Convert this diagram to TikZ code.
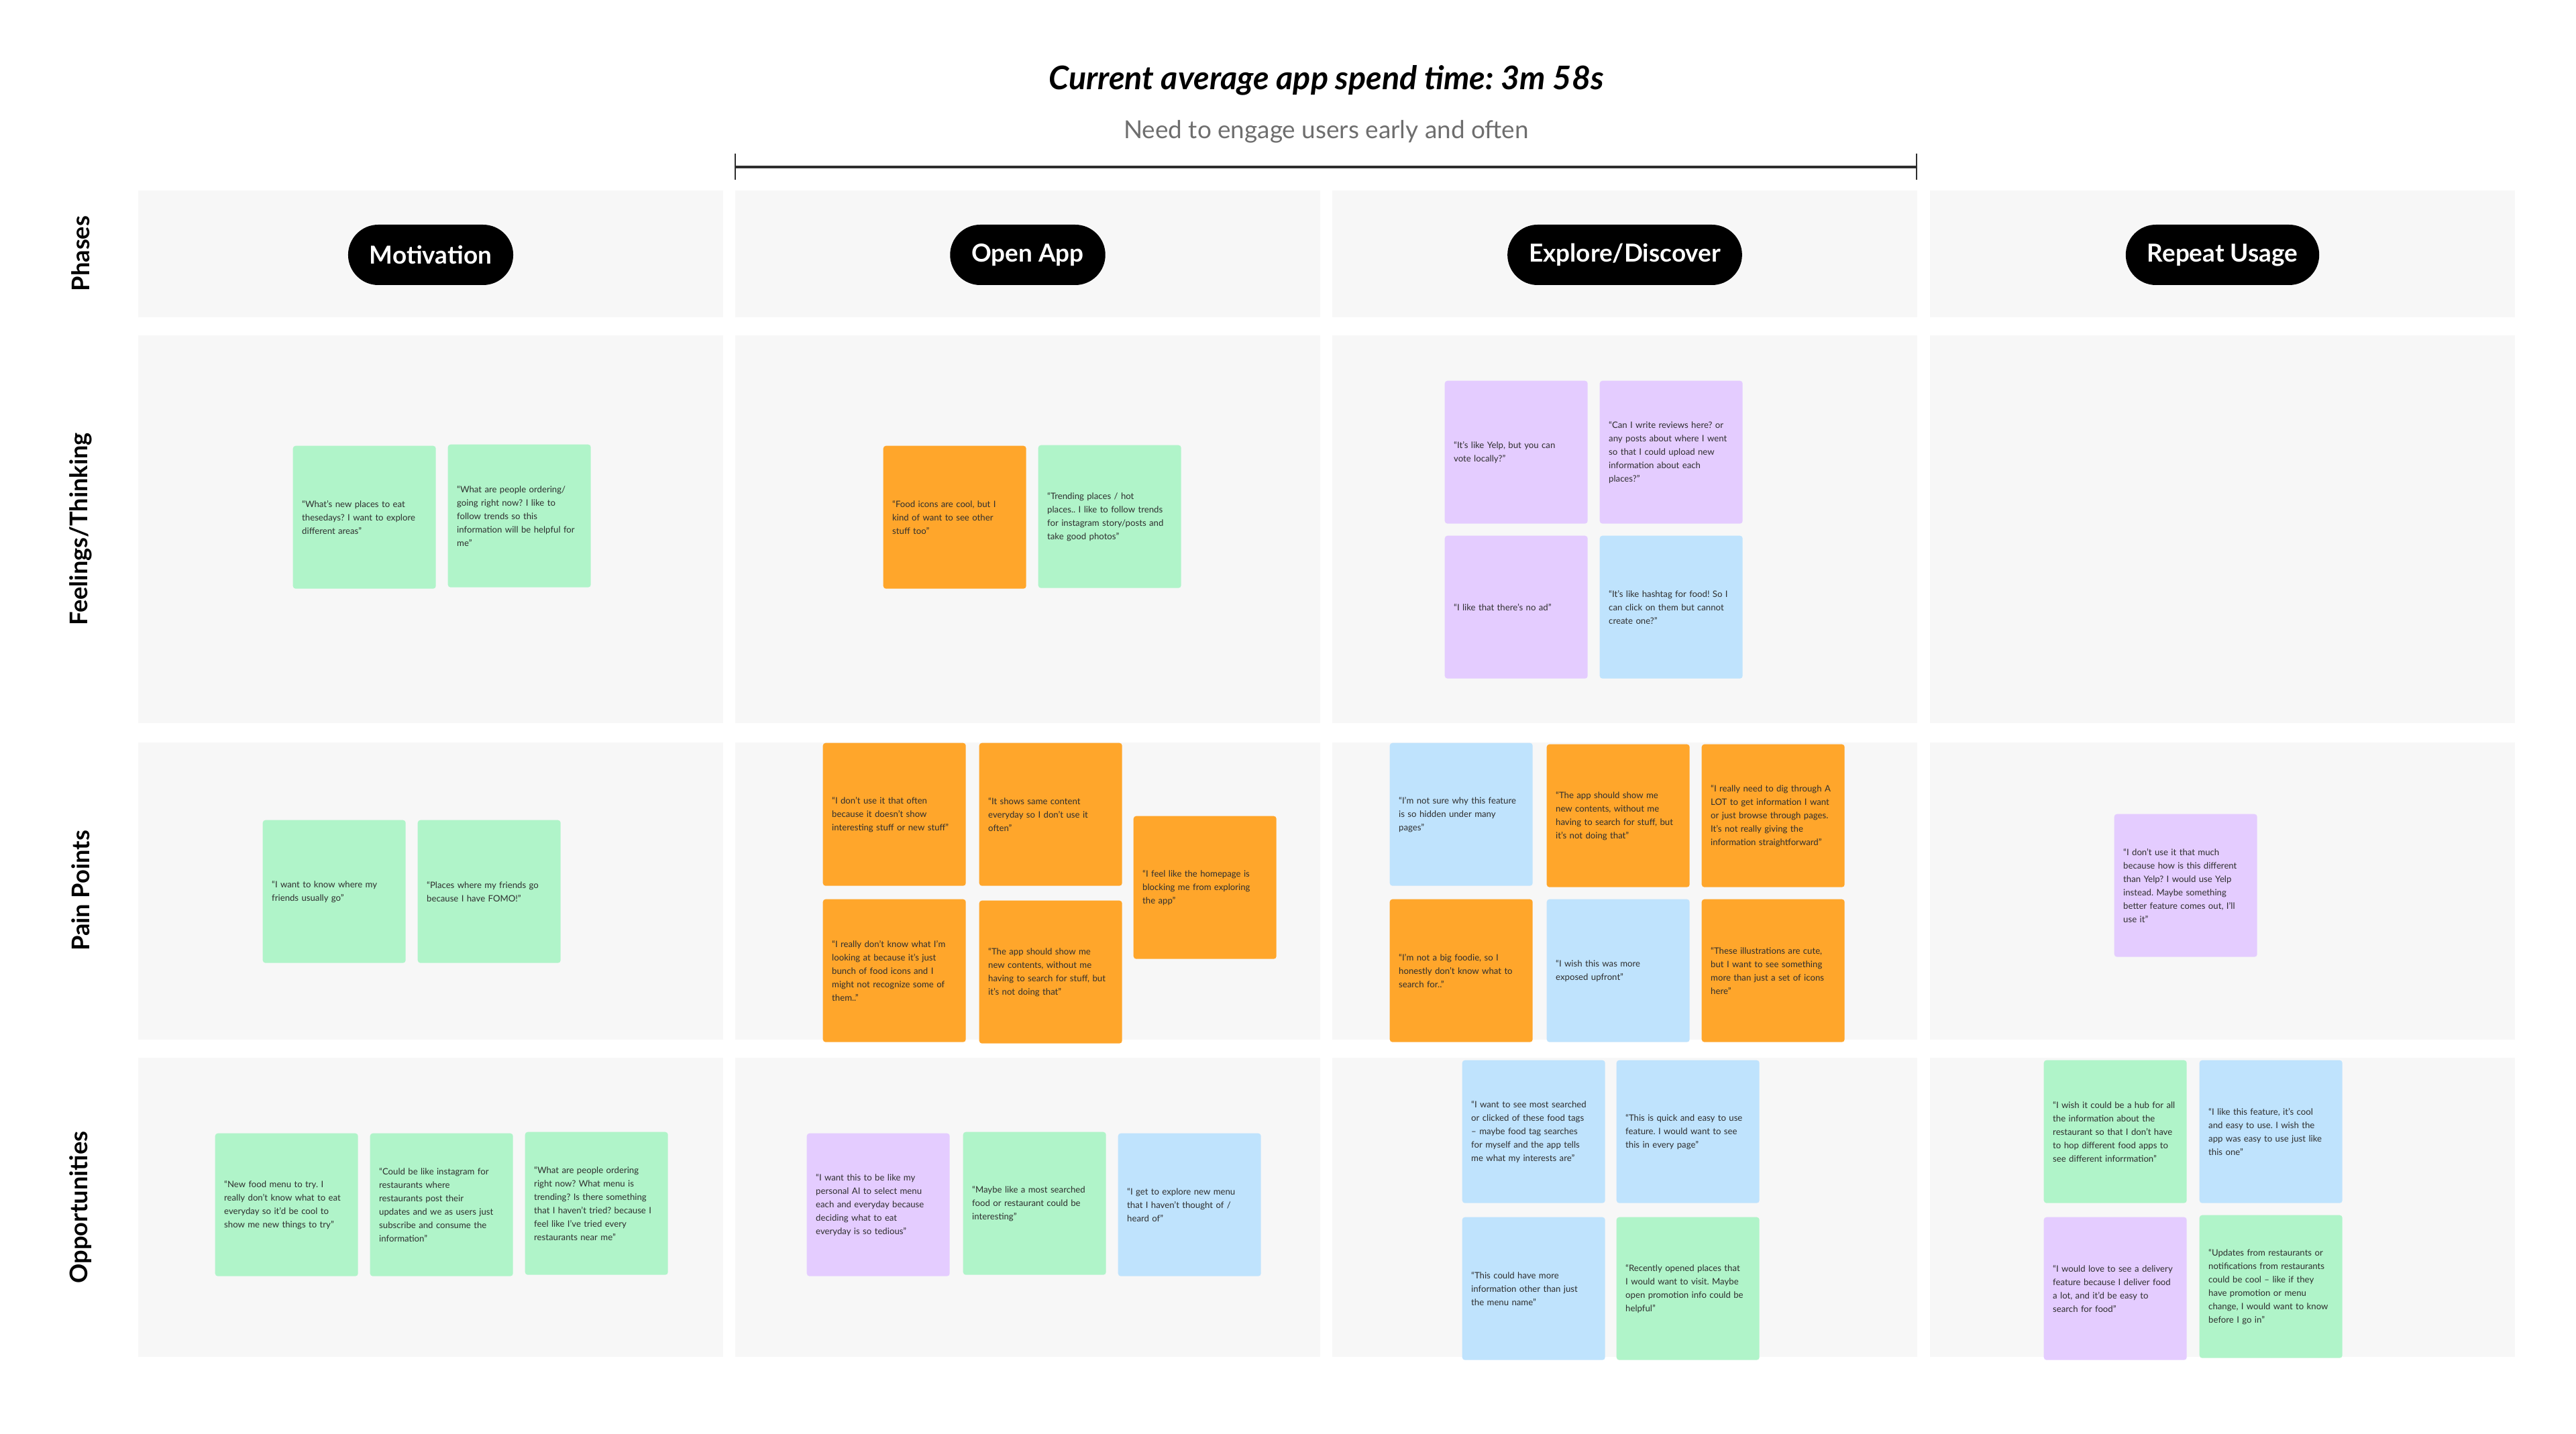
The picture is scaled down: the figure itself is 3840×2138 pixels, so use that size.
\documentclass[tikz,border=0pt]{standalone}
\usepackage{fontspec}
\setmainfont{Lato}
\usepackage{xcolor}
\usetikzlibrary{positioning}
\frenchspacing

\definecolor{lanegray}{HTML}{F7F7F7}
\definecolor{mint}{HTML}{B0F4C9}
\definecolor{tangerine}{HTML}{FFA62B}
\definecolor{lilac}{HTML}{E4CCFF}
\definecolor{sky}{HTML}{BFE3FD}
\definecolor{ink}{HTML}{2E2E2E}
\definecolor{subgray}{HTML}{6E6E6E}

\tikzset{
  lane/.style={fill=lanegray},
  pill/.style={fill=black, text=white, rounded corners=4.5mm, minimum height=9mm, inner xsep=3.2mm, font=\fontsize{10.5}{12}\selectfont\bfseries},
  rowlabel/.style={rotate=90, font=\fontsize{10.3}{12}\selectfont\bfseries},
  sticky/.style={anchor=north west, rounded corners=0.4mm, minimum width=21.3mm, minimum height=21.3mm, text width=18.6mm, inner sep=0pt, align=left, text=ink, font=\fontsize{3.75}{5.69}\selectfont}
}

\begin{document}
\begin{tikzpicture}[x=0.1mm, y=-0.1mm]
\useasboundingbox[fill=white] (0,0) rectangle (3840,2138);

\foreach \ya/\yb in {284/473, 500/1078, 1107/1550, 1577/2023}
  \foreach \xa in {206, 1096, 1986, 2877}
    \fill[lane] (\xa,\ya) rectangle ({\xa+872},\yb);

\node[font=\fontsize{13.8}{16}\selectfont\bfseries\itshape] (title) at (1977,120) {Current average app spend time: 3m 58s};
\node[text=subgray, font=\fontsize{10.5}{12}\selectfont] (subtitle) at (1977,196) {Need to engage users early and often};
\coordinate (spanL) at (1096,249);
\coordinate (spanR) at (2857,249);
\draw[line width=0.4mm, ink] (spanL) -- (spanR);
\draw[line width=0.2mm, ink] ([yshift=1.95mm]spanL) -- ([yshift=-1.95mm]spanL);
\draw[line width=0.2mm, ink] ([yshift=1.95mm]spanR) -- ([yshift=-1.95mm]spanR);

\node[rowlabel] (phases) at (120,378) {Phases};
\node[rowlabel] (feelings) at (120,789) {Feelings/Thinking};
\node[rowlabel] (painpoints) at (120,1328) {Pain Points};
\node[rowlabel] (opportunities) at (120,1800) {Opportunities};

\node[pill] (motivation) at (642,380) {Motivation};
\node[pill] (openapp) at (1532,380) {Open App};
\node[pill] (explore) at (2422,380) {Explore/Discover};
\node[pill] (repeat) at (3313,380) {Repeat Usage};

% feelings / thinking
\node[sticky, fill=mint] (mf1) at (436,664) {“What’s new places to eat\\thesedays? I want to explore\\different areas”};
\node[sticky, fill=mint] (mf2) at (667,662) {“What are people ordering/\\going right now? I like to\\follow trends so this\\information will be helpful for\\me”};
\node[sticky, fill=tangerine] (of1) at (1316,664) {“Food icons are cool, but I\\kind of want to see other\\stuff too”};
\node[sticky, fill=mint] (of2) at (1547,663) {“Trending places / hot\\places.. I like to follow trends\\for instagram story/posts and\\take good photos”};
\node[sticky, fill=lilac] (ef1) at (2153,567) {“It’s like Yelp, but you can\\vote locally?”};
\node[sticky, fill=lilac] (ef2) at (2384,567) {“Can I write reviews here? or\\any posts about where I went\\so that I could upload new\\information about each\\places?”};
\node[sticky, fill=lilac] (ef3) at (2153,798) {“I like that there’s no ad”};
\node[sticky, fill=sky] (ef4) at (2384,798) {“It’s like hashtag for food! So I\\can click on them but cannot\\create one?”};

% pain points
\node[sticky, fill=mint] (mp1) at (391,1222) {“I want to know where my\\friends usually go”};
\node[sticky, fill=mint] (mp2) at (622,1222) {“Places where my friends go\\because I have FOMO!”};
\node[sticky, fill=tangerine] (op1) at (1226,1107) {“I don’t use it that often\\because it doesn’t show\\interesting stuff or new stuff”};
\node[sticky, fill=tangerine] (op2) at (1459,1107) {“It shows same content\\everyday so I don’t use it\\often”};
\node[sticky, fill=tangerine] (op3) at (1689,1216) {“I feel like the homepage is\\blocking me from exploring\\the app”};
\node[sticky, fill=tangerine] (op4) at (1226,1340) {“I really don’t know what I’m\\looking at because it’s just\\bunch of food icons and I\\might not recognize some of\\them..”};
\node[sticky, fill=tangerine] (op5) at (1459,1342) {“The app should show me\\new contents, without me\\having to search for stuff, but\\it’s not doing that”};
\node[sticky, fill=sky] (ep1) at (2071,1107) {“I’m not sure why this feature\\is so hidden under many\\pages”};
\node[sticky, fill=tangerine] (ep2) at (2305,1109) {“The app should show me\\new contents, without me\\having to search for stuff, but\\it’s not doing that”};
\node[sticky, fill=tangerine] (ep3) at (2536,1109) {“I really need to dig through A\\LOT to get information I want\\or just browse through pages.\\It’s not really giving the\\information straightforward”};
\node[sticky, fill=tangerine] (ep4) at (2071,1340) {“I’m not a big foodie, so I\\honestly don’t know what to\\search for..”};
\node[sticky, fill=sky] (ep5) at (2305,1340) {“I wish this was more\\exposed upfront”};
\node[sticky, fill=tangerine] (ep6) at (2536,1340) {“These illustrations are cute,\\but I want to see something\\more than just a set of icons\\here”};
\node[sticky, fill=lilac] (rp1) at (3151,1213) {“I don’t use it that much\\because how is this different\\than Yelp? I would use Yelp\\instead. Maybe something\\better feature comes out, I’ll\\use it”};

% opportunities
\node[sticky, fill=mint] (mo1) at (320,1689) {“New food menu to try. I\\really don’t know what to eat\\everyday so it’d be cool to\\show me new things to try”};
\node[sticky, fill=mint] (mo2) at (551,1689) {“Could be like instagram for\\restaurants where\\restaurants post their\\updates and we as users just\\subscribe and consume the\\information”};
\node[sticky, fill=mint] (mo3) at (782,1687) {“What are people ordering\\right now? What menu is\\trending? Is there something\\that I haven’t tried? because I\\feel like I’ve tried every\\restaurants near me”};
\node[sticky, fill=lilac] (oo1) at (1202,1689) {“I want this to be like my\\personal AI to select menu\\each and everyday because\\deciding what to eat\\everyday is so tedious”};
\node[sticky, fill=mint] (oo2) at (1435,1687) {“Maybe like a most searched\\food or restaurant could be\\interesting”};
\node[sticky, fill=sky] (oo3) at (1666,1689) {“I get to explore new menu\\that I haven’t thought of /\\heard of”};
\node[sticky, fill=sky] (eo1) at (2179,1580) {“I want to see most searched\\or clicked of these food tags\\– maybe food tag searches\\for myself and the app tells\\me what my interests are”};
\node[sticky, fill=sky] (eo2) at (2409,1580) {“This is quick and easy to use\\feature. I would want to see\\this in every page”};
\node[sticky, fill=sky] (eo3) at (2179,1814) {“This could have more\\information other than just\\the menu name”};
\node[sticky, fill=mint] (eo4) at (2409,1814) {“Recently opened places that\\I would want to visit. Maybe\\open promotion info could be\\helpful”};
\node[sticky, fill=mint] (ro1) at (3046,1580) {“I wish it could be a hub for all\\the information about the\\restaurant so that I don’t have\\to hop different food apps to\\see different inforrmation”};
\node[sticky, fill=sky] (ro2) at (3278,1580) {“I like this feature, it’s cool\\and easy to use. I wish the\\app was easy to use just like\\this one”};
\node[sticky, fill=lilac] (ro3) at (3046,1814) {“I would love to see a delivery\\feature because I deliver food\\a lot, and it’d be easy to\\search for food”};
\node[sticky, fill=mint] (ro4) at (3278,1811) {“Updates from restaurants or\\notifications from restaurants\\could be cool – like if they\\have promotion or menu\\change, I would want to know\\before I go in”};
\end{tikzpicture}
\end{document}
